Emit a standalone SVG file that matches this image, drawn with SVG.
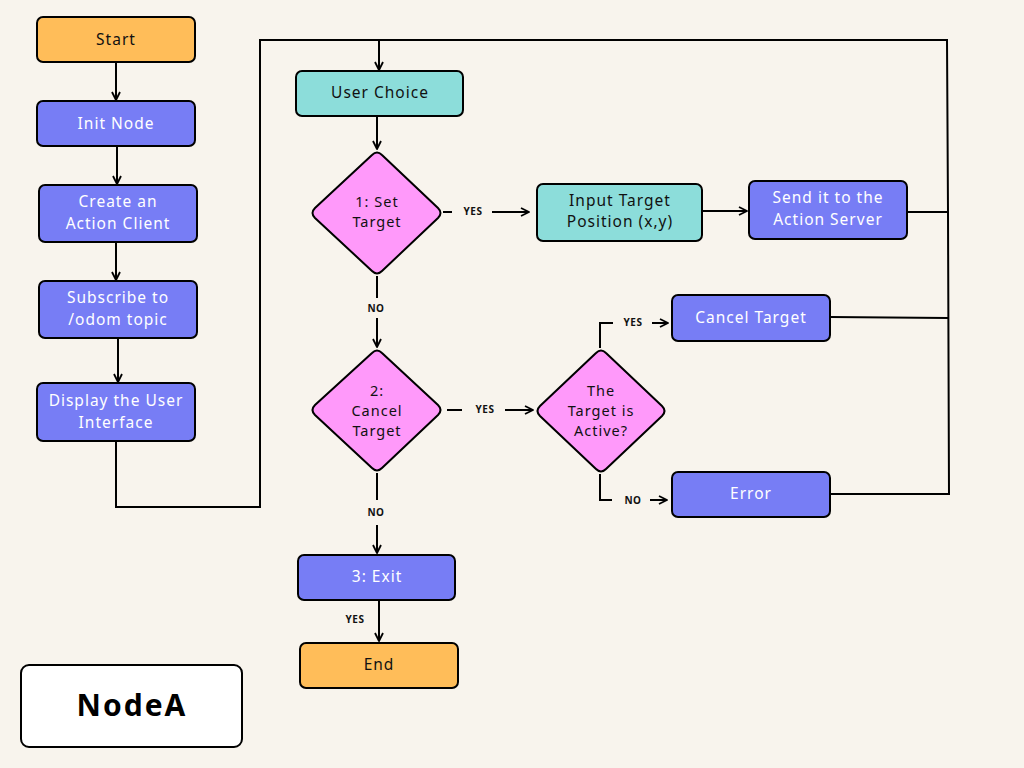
<svg xmlns="http://www.w3.org/2000/svg" width="1024" height="768" viewBox="0 0 1024 768">
<defs>
<marker id="arr" viewBox="0 0 10 10" refX="9" refY="5" markerWidth="10" markerHeight="10" markerUnits="userSpaceOnUse" orient="auto">
<path d="M1,1 L9,5 L1,9" fill="none" stroke="#000" stroke-width="1.8" stroke-linejoin="round"/>
</marker>
<style>
.box{stroke:#000;stroke-width:2}
.orange{fill:#FFBD59}
.blue{fill:#777DF5}
.teal{fill:#8CDDDA}
.pink{fill:#FF99FA}
.t{font-family:"Noto Sans","DejaVu Sans",sans-serif;font-size:15.5px;letter-spacing:1px;text-anchor:middle}
.d{font-family:"Noto Sans","DejaVu Sans",sans-serif;font-size:14.5px;letter-spacing:1px;text-anchor:middle;fill:#111}
.dk{fill:#111}
.wt{fill:#fff}
.lbl{font-family:"Noto Sans","DejaVu Sans",sans-serif;font-size:10px;font-weight:bold;letter-spacing:0.5px;text-anchor:middle;fill:#111}
.ln{fill:none;stroke:#000;stroke-width:2}
</style>
</defs>
<rect width="1024" height="768" fill="#F8F4ED"/>

<g id="connectors">
<line class="ln" x1="116" y1="63" x2="116" y2="100" marker-end="url(#arr)"/>
<line class="ln" x1="117" y1="147" x2="117" y2="184" marker-end="url(#arr)"/>
<line class="ln" x1="116" y1="243" x2="116" y2="280" marker-end="url(#arr)"/>
<line class="ln" x1="118" y1="339" x2="118" y2="382" marker-end="url(#arr)"/>
<polyline class="ln" points="116,441 116,507 260,507 260,40 947,40 948,212 949,494 830,494"/>
<line class="ln" x1="379" y1="40" x2="379" y2="70" marker-end="url(#arr)"/>
<line class="ln" x1="377" y1="117" x2="377" y2="149" marker-end="url(#arr)"/>
<line class="ln" x1="443" y1="212" x2="452" y2="212"/>
<line class="ln" x1="492" y1="212" x2="529" y2="212" marker-end="url(#arr)"/>
<line class="ln" x1="703" y1="211" x2="747" y2="211" marker-end="url(#arr)"/>
<line class="ln" x1="907" y1="212" x2="948" y2="212"/>
<line class="ln" x1="377" y1="276" x2="377" y2="298"/>
<line class="ln" x1="377" y1="318" x2="377" y2="347" marker-end="url(#arr)"/>
<line class="ln" x1="447" y1="410" x2="462" y2="410"/>
<line class="ln" x1="505" y1="410" x2="533" y2="410" marker-end="url(#arr)"/>
<polyline class="ln" points="600,348 600,323 613,323"/>
<line class="ln" x1="652" y1="323" x2="668" y2="323" marker-end="url(#arr)"/>
<line class="ln" x1="830" y1="317" x2="948" y2="318"/>
<polyline class="ln" points="600,474 600,500 612,500"/>
<line class="ln" x1="650" y1="500" x2="667" y2="500" marker-end="url(#arr)"/>
<line class="ln" x1="377" y1="473" x2="377" y2="500"/>
<line class="ln" x1="377" y1="525" x2="377" y2="553" marker-end="url(#arr)"/>
<line class="ln" x1="379" y1="601" x2="379" y2="641" marker-end="url(#arr)"/>
<text class="lbl" x="473" y="215">YES</text>
<text class="lbl" x="376" y="312">NO</text>
<text class="lbl" x="485" y="413">YES</text>
<text class="lbl" x="633" y="326">YES</text>
<text class="lbl" x="633" y="504">NO</text>
<text class="lbl" x="376" y="516">NO</text>
<text class="lbl" x="355" y="623">YES</text>
</g>

<g id="start"><rect class="box orange" x="37" y="17" width="158" height="45" rx="6"/><text class="t dk" x="116" y="45">Start</text></g>
<g id="init"><rect class="box blue" x="37" y="101" width="158" height="45" rx="6"/><text class="t wt" x="116" y="129">Init Node</text></g>
<g id="create"><rect class="box blue" x="39" y="185" width="158" height="57" rx="6"/><text class="t wt" x="118" y="207">Create an</text><text class="t wt" x="118" y="229">Action Client</text></g>
<g id="subscribe"><rect class="box blue" x="39" y="281" width="158" height="57" rx="6"/><text class="t wt" x="118" y="303">Subscribe to</text><text class="t wt" x="118" y="325">/odom topic</text></g>
<g id="display"><rect class="box blue" x="37" y="383" width="158" height="58" rx="6"/><text class="t wt" x="116" y="406">Display the User</text><text class="t wt" x="116" y="428">Interface</text></g>

<g id="userchoice"><rect class="box teal" x="296" y="71" width="167" height="45" rx="6"/><text class="t dk" x="380" y="98">User Choice</text></g>
<g id="settarget"><path class="box pink" d="M372,155 Q377,150 382,155 L438,208 Q443,213 438,218 L382,271 Q377,276 372,271 L315,218 Q310,213 315,208 Z"/><text class="d" x="377" y="207">1: Set</text><text class="d" x="377" y="227">Target</text></g>
<g id="inputtarget"><rect class="box teal" x="537" y="184" width="165" height="57" rx="6"/><text class="t dk" x="620" y="206">Input Target</text><text class="t dk" x="620" y="227">Position (x,y)</text></g>
<g id="send"><rect class="box blue" x="749" y="181" width="158" height="58" rx="6"/><text class="t wt" x="828" y="203">Send it to the</text><text class="t wt" x="828" y="225">Action Server</text></g>
<g id="canceltargetq"><path class="box pink" d="M372,353 Q377,348 382,353 L438,405 Q443,410 438,415 L382,468 Q377,473 372,468 L315,415 Q310,410 315,405 Z"/><text class="d" x="377" y="396">2:</text><text class="d" x="377" y="416">Cancel</text><text class="d" x="377" y="436">Target</text></g>
<g id="active"><path class="box pink" d="M596,353 Q601,348 606,353 L662,406 Q667,411 662,416 L606,469 Q601,474 596,469 L540,416 Q535,411 540,406 Z"/><text class="d" x="601" y="396">The</text><text class="d" x="601" y="416">Target is</text><text class="d" x="601" y="436">Active?</text></g>
<g id="cancel"><rect class="box blue" x="672" y="295" width="158" height="46" rx="6"/><text class="t wt" x="751" y="323">Cancel Target</text></g>
<g id="error"><rect class="box blue" x="672" y="472" width="158" height="45" rx="6"/><text class="t wt" x="751" y="499">Error</text></g>
<g id="exit"><rect class="box blue" x="298" y="555" width="157" height="45" rx="6"/><text class="t wt" x="377" y="582">3: Exit</text></g>
<g id="end"><rect class="box orange" x="300" y="643" width="158" height="45" rx="6"/><text class="t dk" x="379" y="670">End</text></g>

<g id="title"><rect x="21" y="665" width="221" height="82" rx="8" fill="#fff" stroke="#000" stroke-width="2"/><text x="132" y="716" font-family="'Noto Sans','DejaVu Sans',sans-serif" font-size="30" font-weight="bold" letter-spacing="2" text-anchor="middle" fill="#000">NodeA</text></g>
</svg>
